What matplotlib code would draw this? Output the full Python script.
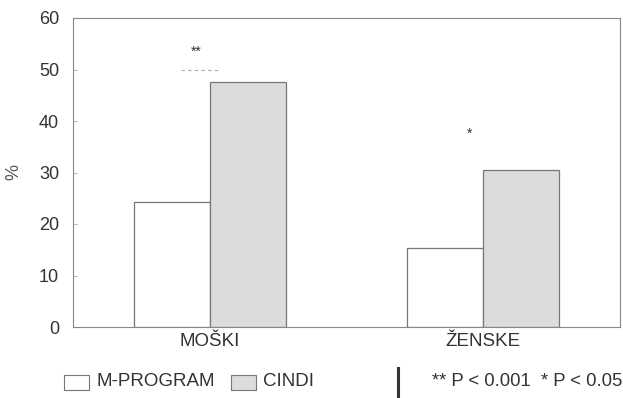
import numpy as np
import matplotlib.pyplot as plt
from matplotlib.patches import Rectangle
from matplotlib.lines import Line2D

plt.rcParams['font.family'] = ['Liberation Sans', 'DejaVu Sans']

# Data
categories = ['MOŠKI', 'ŽENSKE']
m_program = [24.3, 15.3]
cindi = [47.6, 30.5]
sig_marks = ['**', '*']
sig_y = [53.5, 37.5]
series_names = ['M-PROGRAM', 'CINDI']
footnote = '** P < 0.001  * P < 0.05'

W, H = 623, 398
fig = plt.figure(figsize=(W / 100, H / 100), dpi=100)
ax = fig.add_axes([73 / W, 1 - 327 / H, 547 / W, 309 / H])

x = np.arange(len(categories))
w = 0.278
edge = '#777777'
ax.bar(x - w / 2, m_program, w, color='white', edgecolor=edge, linewidth=0.9)
ax.bar(x + w / 2, cindi, w, color='#dcdcdc', edgecolor=edge, linewidth=0.9)

# significance markers
for xi, m, yy in zip(x, sig_marks, sig_y):
    ax.text(xi - 0.05, yy, m, ha='center', va='center', fontsize=10, color='#333333')
ax.plot([x[0] - 0.105, x[0] + 0.03], [50, 50], ls=(0, (3, 3)), color='#aaaaaa', lw=0.8)

ax.set_xlim(-0.5, 1.5)
ax.set_ylim(0, 60)
ax.set_yticks(range(0, 61, 10))
ax.set_xticks(x)
ax.set_xticklabels(categories, fontsize=13.5, color='#333333')
ax.tick_params(axis='y', labelsize=13, colors='#333333', length=3, color='#bbbbbb', direction='in', pad=10)
ax.tick_params(axis='x', length=0, pad=4)
for s in ax.spines.values():
    s.set_color('#888888')
    s.set_linewidth(0.8)
ax.set_ylabel('%', fontsize=13, color='#555555', labelpad=12)

# legend row below the chart
yc = 1 - 382 / H
fig.patches.append(Rectangle((64 / W, 1 - 390 / H), 25 / W, 15 / H,
                             transform=fig.transFigure, facecolor='white', edgecolor=edge, lw=0.8))
fig.text(97 / W, yc, series_names[0], fontsize=13.5, va='center', color='#333333')
fig.patches.append(Rectangle((231 / W, 1 - 390 / H), 25 / W, 15 / H,
                             transform=fig.transFigure, facecolor='#dcdcdc', edgecolor=edge, lw=0.8))
fig.text(263 / W, yc, series_names[1], fontsize=13.5, va='center', color='#333333')
fig.lines.append(Line2D([398 / W, 398 / W], [1 - 368 / H, 0],
                        transform=fig.transFigure, color='#333333', lw=2.2))
fig.text(432 / W, 1 - 381 / H, footnote, fontsize=13.3, va='center', color='#333333')

fig.savefig('out.png', dpi=100)
